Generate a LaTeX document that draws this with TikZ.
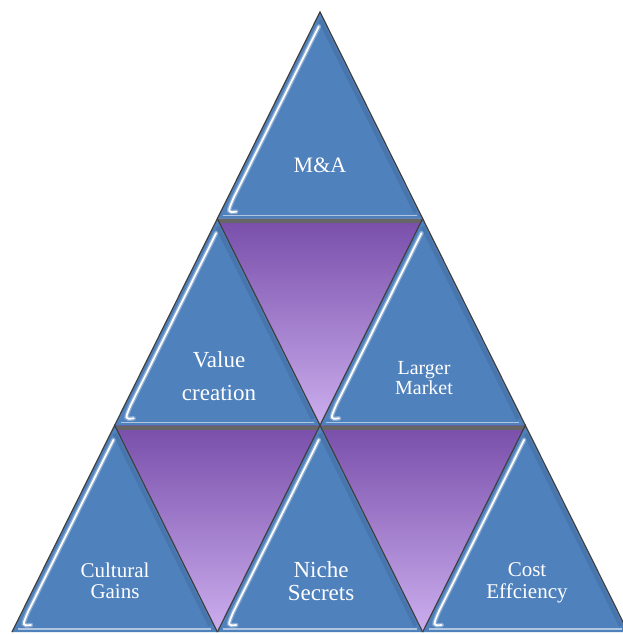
\documentclass[tikz,border=0pt]{standalone}
\usepackage{fontspec}
\setmainfont{Liberation Serif}
\usetikzlibrary{calc}

\definecolor{tribl}{RGB}{79,129,189}
\definecolor{plumtop}{RGB}{120,78,170}
\definecolor{plumbot}{RGB}{204,174,238}

\begin{document}
\begin{tikzpicture}[
  x=1pt, y=-1pt,
  bluetri/.style={fill=tribl},
  plumtri/.style={top color=plumtop, bottom color=plumbot},
  edge/.style={draw=black!75, line width=1.2pt, line join=miter},
  glow/.style={draw=tribl!35!white, line width=4.5pt, opacity=.5, line cap=round},
  glint/.style={draw=white, line width=1.8pt, line cap=round},
  dim/.style={draw=tribl!75!black, line width=4pt, opacity=.35},
  rim/.style={draw=tribl!45!white, line width=1.4pt},
  shade/.style={draw=black!60, line width=3.5pt},
  label/.style={text=white, align=center, inner sep=0pt},
]
\fill[white] (0,0) rectangle (623,634);
\useasboundingbox (0,0) rectangle (623,634);
\clip (0,0) rectangle (623,634);

% corner points of the grid, row by row from the apex
\foreach \i in {0,...,3}
  \foreach \j in {0,...,\i}
    \coordinate (v\i\j) at ({320+(2*\j-\i)*102.67}, {12+\i*206.67});

% inverted triangles
\foreach \i/\j in {1/0, 2/0, 2/1}{
  \pgfmathtruncatemacro\k{\i+1}
  \pgfmathtruncatemacro\m{\j+1}
  \fill[plumtri] (v\i\j) -- (v\i\m) -- (v\k\m) -- cycle;
  \draw[shade] ($(v\i\j)+(0,2.5)$) -- ($(v\i\m)+(0,2.5)$);
}

% upright triangles with bevel
\foreach \i/\j in {0/0, 1/0, 1/1, 2/0, 2/1, 2/2}{
  \pgfmathtruncatemacro\k{\i+1}
  \pgfmathtruncatemacro\m{\j+1}
  \fill[bluetri] (v\i\j) -- (v\k\j) -- (v\k\m) -- cycle;
  \draw[dim] ($(v\i\j)!.04!(v\k\m)+(-4,0)$) -- ($(v\i\j)!.97!(v\k\m)+(-4,0)$);
  \draw[rim] ($(v\k\j)+(6,-3)$) -- ($(v\k\m)+(-6,-3)$);
  \draw[glow] ($(v\i\j)!.07!(v\k\j)+(6,0)$) -- ($(v\i\j)!.9!(v\k\j)+(6,0)$)
    .. controls ($(v\k\j)+(10,-6)$) .. ($(v\k\j)+(19,-7)$);
  \draw[glint] ($(v\i\j)!.07!(v\k\j)+(6,0)$) -- ($(v\i\j)!.9!(v\k\j)+(6,0)$)
    .. controls ($(v\k\j)+(10,-6)$) .. ($(v\k\j)+(19,-7)$);
  \draw[edge] (v\k\j) -- (v\i\j) -- (v\k\m);
}

\node[label, font=\fontsize{22}{22}\selectfont] (ma) at (320,165) {M\&A};
\node[label, font=\fontsize{23}{33}\selectfont] (value) at (219,376) {Value\\creation};
\node[label, font=\fontsize{20}{20}\selectfont] (market) at (424,378) {Larger\\Market};
\node[label, font=\fontsize{21}{21}\selectfont] (cultural) at (115,581) {Cultural\\Gains};
\node[label, font=\fontsize{23}{23}\selectfont] (niche) at (321,581) {Niche\\Secrets};
\node[label, font=\fontsize{21}{22}\selectfont] (cost) at (527,583) {Cost\\Effciency};
\end{tikzpicture}
\end{document}
